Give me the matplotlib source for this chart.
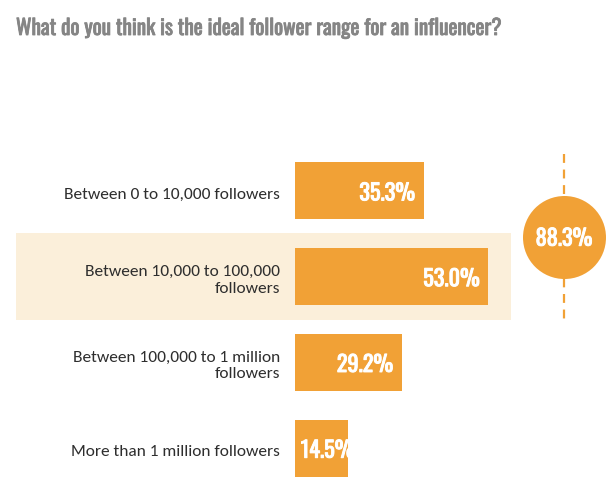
import matplotlib
matplotlib.use("Agg")
import matplotlib.pyplot as plt
import matplotlib.patheffects as pe
from matplotlib.patches import Rectangle

title = "What do you think is the ideal follower range for an influencer?"
categories = ["Between 0 to 10,000 followers",
              "Between 10,000 to 100,000\nfollowers",
              "Between 100,000 to 1 million\nfollowers",
              "More than 1 million followers"]
values = [35.3, 53.0, 29.2, 14.5]
highlight_rows = [1]
combined_rows = [0, 1]  # circle shows the sum of these

orange = "#F1A136"
band = "#FBEFDA"
label_col = "#2e2e2e"
title_col = "#858585"
cond = ["Oswald", "DejaVu Sans"]
body = ["Carlito", "Lato", "DejaVu Sans"]

def thick(col, w=0.7):
    # slightly heavier look for the condensed font
    return [pe.withStroke(linewidth=w, foreground=col)]

W, H = 614, 502
fig = plt.figure(figsize=(W / 100, H / 100), dpi=100)

# bar axes: x=0 at 295px, 3.65 px per percent
x0, px_per = 295, 3.65
ax_w = 216
top, bot = 149, 492
ax = fig.add_axes([x0 / W, 1 - bot / H, ax_w / W, (bot - top) / H])
ax.set_xlim(0, ax_w / px_per)
ax.set_ylim(len(values) - 0.5, -0.5)
ax.axis("off")

ypos = list(range(len(values)))
ax.barh(ypos, values, height=0.667, color=orange, zorder=3)

# highlight band behind the 2nd row (extends left into the label area)
for r in highlight_rows:
    xl = (16 - x0) / px_per
    xr = (511 - x0) / px_per
    ax.add_patch(Rectangle((xl, r - 0.51), xr - xl, 1.02, facecolor=band,
                           edgecolor="none", zorder=1, clip_on=False))

# category labels
for y, lab in zip(ypos, categories):
    ax.text(-15 / px_per, y + 0.03, lab, ha="right", va="center", fontsize=12.5,
            family=body, color=label_col, linespacing=1.28, clip_on=False)

# value labels inside bars
for y, v in zip(ypos, values):
    if v < 20:
        ax.text(1.6, y + 0.03, f"{v:.1f}%", ha="left", va="center",
                fontsize=16, family=cond, color="white", zorder=4,
                path_effects=thick("white"))
    else:
        ax.text(v - 2.4, y + 0.03, f"{v:.1f}%", ha="right", va="center",
                fontsize=16, family=cond, color="white", zorder=4,
                path_effects=thick("white"))

# combined circle with dashed guide line
cx = (564 - x0) / px_per
cy = (238 - top) / 85.75 - 0.5
ax.plot([cx, cx], [-0.43, 1.52], color=orange, lw=1.6, ls=(0, (4, 3)),
        zorder=2, clip_on=False)
ax.scatter([cx], [cy], s=(83 * 0.72) ** 2, color=orange, zorder=4,
           clip_on=False, linewidths=0)
total = sum(values[i] for i in combined_rows)
ax.text(cx, cy + 0.02, f"{total:.1f}%", ha="center", va="center", fontsize=16,
        family=cond, color="white", zorder=5, clip_on=False,
        path_effects=thick("white"))

fig.text(16 / W, 1 - 36 / H, title, ha="left", va="baseline", fontsize=15.3,
         family=cond, color=title_col, path_effects=thick(title_col, 0.6))

fig.savefig("out.png", dpi=100, facecolor="white")
